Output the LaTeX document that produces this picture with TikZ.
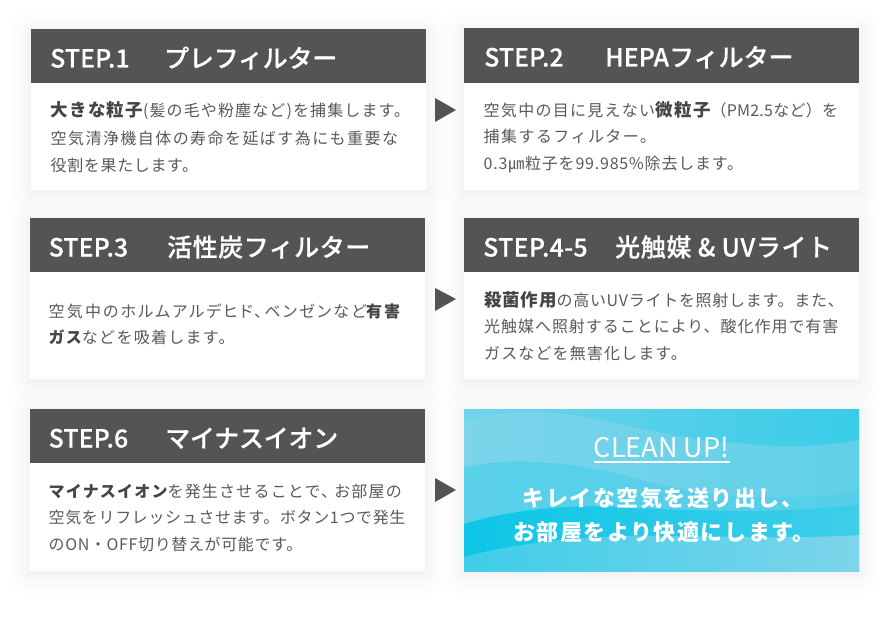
\documentclass[tikz,border=0pt]{standalone}
\usepackage{fontspec}
\setmainfont{Noto Sans CJK JP}
\newfontfamily\hdfont{Noto Sans CJK JP}[BoldFont={Noto Sans CJK JP Medium},BoldFeatures={FakeBold=0.3}]
\newfontfamily\clfont{Noto Sans CJK JP}
\usetikzlibrary{shapes.geometric}
\definecolor{hdgray}{HTML}{545454}
\definecolor{txtgray}{HTML}{5A5A5A}
\definecolor{boldgray}{HTML}{454545}
\tikzset{
  x=1pt,y=-1pt,
  cardbody/.style={fill=white,anchor=north west,inner sep=0pt,outer sep=0pt},
  headbox/.style={fill=hdgray,anchor=north west,inner sep=0pt,outer sep=0pt,minimum width=395pt,minimum height=54.5pt},
  headtxt/.style={anchor=base west,inner sep=0pt,text=white,font=\hdfont\bfseries\fontsize{25}{30}\selectfont},
  bodytxt/.style={anchor=base west,inner sep=0pt,text=txtgray,font=\fontsize{16}{20}\selectfont},
  cleantxt/.style={anchor=base,inner sep=0pt,text=white},
  arrowtri/.style={fill=hdgray}
}
\newcommand{\softshadow}[4]{%
  \foreach \i in {1,...,12}{%
    \pgfmathsetmacro{\rr}{22*(\i/12)^1.6}%
    \fill[black,opacity=0.004,rounded corners=\rr pt] (#1-\rr,#2-\rr+3) rectangle (#3+\rr,#4+\rr+3);
  }%
}
\newcommand{\bfb}[1]{{\color{boldgray}\bfseries #1}}
\newcommand{\bfc}[1]{{\color{boldgray}\bfseries\fontsize{17.5}{20}\selectfont #1}}
\begin{document}
\begin{tikzpicture}
\useasboundingbox (0,0) rectangle (890,620);
\fill[white] (0,0) rectangle (890,620);

\softshadow{31}{29}{426}{190}
\softshadow{464}{28}{859}{190}
\softshadow{30}{218}{425}{379}
\softshadow{464}{218}{859}{379}
\softshadow{30}{409}{425}{571}
\softshadow{464}{409}{859}{571}

% Card 1
\node[cardbody,minimum width=395pt,minimum height=161pt] (c1) at (31,29) {};
\node[headbox] (h1) at (31,29) {};
\node[headtxt] (h1a) at (50,67.5) {STEP.1};
\node[headtxt] (h1b) at (164,67.5) {\addfontfeature{LetterSpace=-1}プレフィルター};
\node[bodytxt] (t1a) at (50.5,117) {\addfontfeature{LetterSpace=7}\bfc{大きな粒子}(髪の毛や粉塵など)を捕集します。};
\node[bodytxt] (t1b) at (50.5,145) {\addfontfeature{LetterSpace=9}空気清浄機自体の寿命を延ばす為にも重要な};
\node[bodytxt] (t1c) at (50.5,172) {\addfontfeature{LetterSpace=4}役割を果たします。};

% Card 2
\node[cardbody,minimum width=395pt,minimum height=162pt] (c2) at (464,28) {};
\node[headbox,minimum height=55pt] (h2) at (464,28) {};
\node[headtxt] (h2a) at (484,66.5) {STEP.2};
\node[headtxt] (h2b) at (605,66.5) {HEPAフィルター};
\node[bodytxt] (t2a) at (483.5,117) {\addfontfeature{LetterSpace=8}空気中の目に見えない\bfc{微粒子}\addfontfeature{LetterSpace=1.5}（PM2.5など）を};
\node[bodytxt] (t2b) at (483.5,143) {\addfontfeature{LetterSpace=9}捕集するフィルター。};
\node[bodytxt] (t2c) at (483.5,170) {\addfontfeature{LetterSpace=5}0.3㎛粒子を99.985\%除去します。};

% Card 3
\node[cardbody,minimum width=395pt,minimum height=161pt] (c3) at (30,218) {};
\node[headbox,minimum height=54pt] (h3) at (30,218) {};
\node[headtxt] (h3a) at (48.5,256.5) {STEP.3};
\node[headtxt] (h3b) at (167,256.5) {\addfontfeature{LetterSpace=2}活性炭フィルター};
\node[bodytxt] (t3a) at (48.5,317) {\addfontfeature{RawFeature=+palt,LetterSpace=13.5}空気中のホルムアルデヒド、ベンゼンなど\bfb{有害}};
\node[bodytxt] (t3b) at (48.5,343) {\addfontfeature{LetterSpace=8}\bfb{ガス}などを吸着します。};

% Card 4
\node[cardbody,minimum width=395pt,minimum height=161pt] (c4) at (464,218) {};
\node[headbox,minimum height=54pt] (h4) at (464,218) {};
\node[headtxt] (h4a) at (483,256.5) {\addfontfeature{LetterSpace=1}STEP.4-5};
\node[headtxt] (h4b) at (615,256.5) {\addfontfeature{LetterSpace=2.5}光触媒 \& UVライト};
\node[bodytxt] (t4a) at (484,306) {\addfontfeature{LetterSpace=4.5}\bfc{殺菌作用}の高いUVライトを照射します。また、};
\node[bodytxt] (t4b) at (484,332) {\addfontfeature{LetterSpace=6}光触媒へ照射することにより、酸化作用で有害};
\node[bodytxt] (t4c) at (484,359) {\addfontfeature{LetterSpace=7}ガスなどを無害化します。};

% Card 5
\node[cardbody,minimum width=395pt,minimum height=162pt] (c5) at (30,409) {};
\node[headbox,minimum height=54pt] (h5) at (30,409) {};
\node[headtxt] (h5a) at (48.5,447.5) {STEP.6};
\node[headtxt] (h5b) at (165,447.5) {\addfontfeature{LetterSpace=-1}マイナスイオン};
\node[bodytxt] (t5a) at (48.5,497) {\addfontfeature{LetterSpace=7.5}\bfb{マイナスイオン}を発生させることで、\kern-3pt お部屋の};
\node[bodytxt] (t5b) at (48.5,523) {\addfontfeature{LetterSpace=4}空気をリフレッシュさせます。ボタン1つで発生};
\node[bodytxt] (t5c) at (48.5,550) {\addfontfeature{LetterSpace=4}のON・OFF切り替えが可能です。};

% Clean up panel
\begin{scope}
\clip (464,409) rectangle (859,571);
\definecolor{cA}{HTML}{70D3EA}\definecolor{cB}{HTML}{38CCE8}
\definecolor{cC}{HTML}{7CD5EA}\definecolor{cD}{HTML}{5FD0E9}
\definecolor{cE}{HTML}{5AD0E9}\definecolor{cF}{HTML}{55CFE9}
\definecolor{cG}{HTML}{0EC6E6}\definecolor{cH}{HTML}{3FCDE9}
\definecolor{cJ}{HTML}{7DD5EA}
\shade[left color=cA,right color=cB] (464,409) rectangle (859,571);
\shade[left color=cC,right color=cD]
  (464,467) .. controls (520,455) and (590,465) .. (640,480)
  .. controls (700,497) and (780,503) .. (859,493) -- (859,440)
  .. controls (800,450) and (770,446) .. (700,440)
  .. controls (640,430) and (580,412) .. (530,412)
  .. controls (505,412) and (485,416) .. (464,421) -- cycle;
\shade[left color=cE,right color=cF]
  (464,467) .. controls (520,455) and (590,465) .. (640,480)
  .. controls (700,497) and (780,503) .. (859,493) -- (859,505)
  .. controls (760,515) and (700,510) .. (630,508)
  .. controls (570,503) and (510,510) .. (464,524) -- cycle;
\shade[left color=cG,right color=cH]
  (464,524) .. controls (510,510) and (570,503) .. (630,508)
  .. controls (700,510) and (760,515) .. (859,505) -- (859,535)
  .. controls (780,540) and (700,535) .. (630,536)
  .. controls (570,537) and (510,545) .. (464,557) -- cycle;
\shade[left color=cH,right color=cJ]
  (464,557) .. controls (510,545) and (570,537) .. (630,536)
  .. controls (700,535) and (780,540) .. (859,535) -- (859,572) -- (464,572) -- cycle;
\end{scope}
\node[inner sep=0pt,outer sep=0pt,minimum width=395pt,minimum height=162pt,anchor=north west] (c6) at (464,409) {};
\node[cleantxt,font=\fontsize{27}{32}\selectfont] (t6) at (661.5,457) {CLEAN UP!};
\draw[white,line width=1.3pt] (594,462) -- (730,462);
\node[cleantxt,font=\clfont\bfseries\fontsize{22}{28}\selectfont] (t6a) at (663,506) {\addfontfeature{LetterSpace=7}キレイな空気を送り出し、};
\node[cleantxt,font=\clfont\bfseries\fontsize{22}{28}\selectfont] (t6b) at (664,540) {\addfontfeature{LetterSpace=7}お部屋をより快適にします。};

% Arrows
\fill[arrowtri] (435,98) -- (456,110) -- (435,122) -- cycle;
\fill[arrowtri] (435,288) -- (456,299) -- (435,311) -- cycle;
\fill[arrowtri] (435,478) -- (456,490) -- (435,502) -- cycle;
\end{tikzpicture}
\end{document}
